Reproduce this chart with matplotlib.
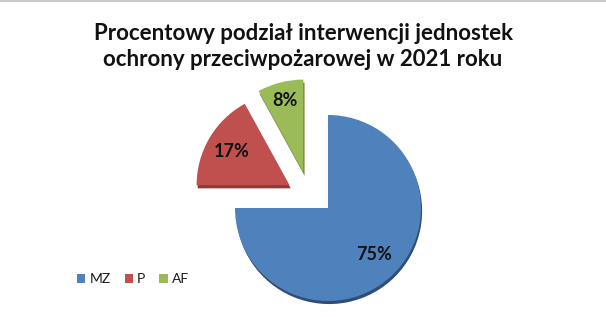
import matplotlib
matplotlib.use("Agg")
import matplotlib.pyplot as plt
import matplotlib.patheffects as pe
from matplotlib.lines import Line2D
import numpy as np

# --- Data ---
categories = ["MZ", "P", "AF"]
shares = [75, 17, 8]
title_lines = ["Procentowy podział interwencji jednostek",
               "ochrony przeciwpożarowej w 2021 roku"]

# --- Style ---
colors = ["#4F81BD", "#C0504D", "#9BBB59"]
side_colors = ["#2E4E75", "#8E3735", "#667F35"]
explode = [0.0, 0.48, 0.46]
label_dist = [0.70, 0.72, 0.80]
extra_shift = [(0, 0), (0, 0), (-0.15, -0.065)]  # nudge green wedge like the excel layout

W, H = 606, 317
PIE_X, PIE_Y, PIE_R = 328, 109, 93  # pixels (y from bottom)
plt.rcParams["font.family"] = ["Lato", "DejaVu Sans"]

fig = plt.figure(figsize=(W / 100, H / 100), dpi=100)
ax = fig.add_axes([0, 0, 1, 1])

wedges, _ = ax.pie(shares, colors=colors, startangle=90, counterclock=False,
                   explode=explode, frame=True)
ax.set_xlim(-PIE_X / PIE_R, (W - PIE_X) / PIE_R)
ax.set_ylim(-PIE_Y / PIE_R, (H - PIE_Y) / PIE_R)
ax.set_aspect("equal")
ax.axis("off")

# legend before shadows so handles stay flat
leg = fig.legend(wedges, categories, ncol=3, frameon=False, loc="center left",
                 bbox_to_anchor=(77 / W, 38 / H), fontsize=10,
                 handlelength=0.6, handleheight=0.6, handletextpad=0.3,
                 columnspacing=1.0, borderaxespad=0, borderpad=0,
                 labelcolor="#1a1a1a")

for i, w in enumerate(wedges):
    cx, cy = w.center
    dx, dy = extra_shift[i]
    w.set_center((cx + dx, cy + dy))
    w.set_path_effects([pe.SimplePatchShadow(offset=(0.8, -2.2), shadow_rgbFace=side_colors[i], alpha=1.0),
                        pe.Normal()])
    mid = np.deg2rad((w.theta1 + w.theta2) / 2)
    r = label_dist[i]
    ax.text(cx + dx + r * np.cos(mid), cy + dy + r * np.sin(mid), f"{shares[i]}%",
            ha="center", va="center", fontsize=13, fontweight="bold", color="#111111")

fig.text(0.5, 1 - 33 / H, title_lines[0], ha="center", va="center",
         fontsize=16, fontweight="bold", color="#111111")
fig.text(0.5, 1 - 59 / H, title_lines[1], ha="center", va="center",
         fontsize=16, fontweight="bold", color="#111111")

fig.add_artist(Line2D([0, 1], [1 - 0.8 / H, 1 - 0.8 / H], transform=fig.transFigure,
                      color="#BFBFBF", lw=1.2))

fig.savefig("out.png", dpi=100, facecolor="white")
